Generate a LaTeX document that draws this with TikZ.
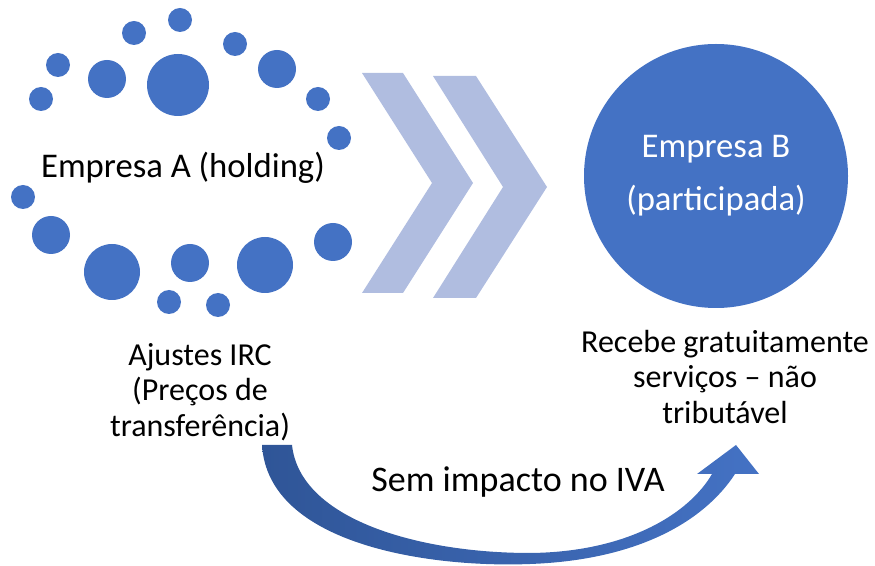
\documentclass[tikz,border=0pt]{standalone}
\usepackage{fontspec}
\setmainfont{Carlito}
\usetikzlibrary{positioning,calc}
\definecolor{dotblue}{HTML}{4472C4}
\definecolor{chevblue}{HTML}{B0BDE0}
\definecolor{deepblue}{HTML}{2F5597}

\begin{document}
\begin{tikzpicture}[
    x=0.75pt, y=-0.75pt,
    dot/.style={fill=dotblue},
    chevron/.style={fill=chevblue},
    bigtext/.style={font=\fontsize{26}{39.75}\selectfont, align=center},
    note/.style={font=\fontsize{24}{26.5}\selectfont, align=center},
]
    \useasboundingbox (0,0) rectangle (875,566);

    % ring of dots round Empresa A
    \foreach \x/\y/\r in {180/20/12, 134/33/12, 235/44/12, 58/65/12, 107/79/19,
        178/85/31, 277/69/19, 41/99/12, 318/99/12, 339/138/12, 23/197/12,
        51/235/19, 112/272/28, 190/263/19, 265/265/28, 333/242/19,
        169/302/12, 218/305/12}
        \fill[dot] (\x,\y) circle[radius=\r*0.75pt];

    \node[bigtext] (holding) at (183,168) {Empresa A (holding)};

    % chevrons
    \fill[chevron] (362,73) -- (403,73) -- (473,183) -- (403,293) -- (362,293) -- (432,183) -- cycle;
    \fill[chevron] (433,76) -- (476,76) -- (547,187) -- (476,298) -- (433,298) -- (503,187) -- cycle;

    \node[circle, fill=dotblue, minimum size=198pt, bigtext, text=white] (participada) at (716,176)
        {Empresa B\\(participada)};

    \node[note] (ajustes) at (200,392) {Ajustes IRC\\(Preços de\\transferência)};
    \node[note] (recebe) at (725,377) {Recebe gratuitamente\\serviços – não\\tributável};

    % curved arrow
    \coordinate (tail) at (277,445);
    \coordinate (tip) at (736,445);
    \shade[left color=deepblue, right color=dotblue]
        ($(tail)+(-15,0)$) .. controls (268,545) and (430,568) .. (530,564)
        .. controls (640,560) and (705,520) .. (735,474)
        -- (759,474) -- (tip) -- (697,474) -- (712,474)
        .. controls (690,512) and (630,552) .. (530,553)
        .. controls (420,553) and (300,520) .. ($(tail)+(15,0)$) -- cycle;

    \node[font=\fontsize{27}{32}\selectfont, anchor=base] (iva) at (518,492) {Sem impacto no IVA};
\end{tikzpicture}
\end{document}
